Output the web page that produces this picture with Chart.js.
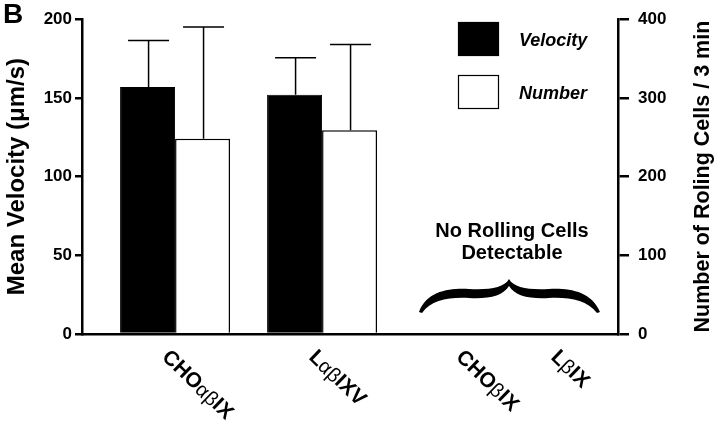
<!DOCTYPE html>
<html>
<head>
<meta charset="utf-8">
<script src="https://cdn.jsdelivr.net/npm/chart.js@4/dist/chart.umd.min.js"></script>
<style>
  html, body { margin: 0; padding: 0; background: #fff; }
  #wrap { width: 720px; height: 428px; }
</style>
</head>
<body>
<div id="wrap"><canvas id="myChart" width="720" height="428"></canvas></div>
<script>
// data
const categories = ['CHOαβIX', 'LαβIXV', 'CHOβIX', 'LβIX'];
const velocity = [157, 152, null, null];        // µm/s, left axis
const velocityErr = [29.5, 23.5, null, null];
const number = [248, 259, null, null];          // cells / 3 min, right axis
const numberErr = [142, 109, null, null];
const velocityTicks = [0, 50, 100, 150, 200];
const numberTicks = [0, 100, 200, 300, 400];

const FONT = '"Liberation Sans", Arial, Helvetica, sans-serif';

// error bars (upper half only) drawn on top of the bars
const errorBars = {
  id: 'errorBars',
  afterDatasetsDraw(chart) {
    const ctx = chart.ctx;
    const errs = [velocityErr, numberErr];
    chart.data.datasets.forEach((ds, i) => {
      const meta = chart.getDatasetMeta(i);
      const yScale = chart.scales[meta.yAxisID];
      meta.data.forEach((bar, j) => {
        const v = ds.data[j].y;
        const e = errs[i][j];
        if (v == null || e == null) return;
        const top = yScale.getPixelForValue(v + e);
        ctx.save();
        ctx.strokeStyle = '#000';
        ctx.lineWidth = 1.5;
        ctx.beginPath();
        ctx.moveTo(bar.x + 1, bar.y);
        ctx.lineTo(bar.x + 1, top);
        ctx.moveTo(bar.x - 19.5, top);
        ctx.lineTo(bar.x + 21.5, top);
        ctx.stroke();
        ctx.restore();
      });
    });
  }
};

// rotated category labels, right axis title, legend, panel letter and the brace note
const decorations = {
  id: 'decorations',
  afterDraw(chart) {
    const ctx = chart.ctx;
    const xs = chart.scales.x;
    const area = chart.chartArea;

    // category labels, rotated clockwise, greek letters in plain weight
    categories.forEach((label, i) => {
      let x = xs.getPixelForValue(i) - 10;
      if (i === categories.length - 1) x -= 52; // keep clear of the right axis
      ctx.save();
      ctx.translate(x, 354);
      ctx.rotate(44 * Math.PI / 180);
      ctx.fillStyle = '#000';
      ctx.textBaseline = 'middle';
      ctx.textAlign = 'left';
      let cx = 0;
      label.match(/[α-ω]+|[^α-ω]+/g).forEach(part => {
        const greek = /[α-ω]/.test(part);
        ctx.font = (greek ? 'normal 20px ' : 'bold 21px ') + FONT;
        ctx.fillText(part, cx, greek ? 1 : 0);
        cx += ctx.measureText(part).width;
      });
      ctx.restore();
    });

    // right axis title, reading bottom to top
    ctx.save();
    ctx.translate(703, (area.top + area.bottom) / 2);
    ctx.rotate(-Math.PI / 2);
    ctx.font = 'bold 21.5px ' + FONT;
    ctx.fillStyle = '#000';
    ctx.textAlign = 'center';
    ctx.textBaseline = 'middle';
    ctx.fillText('Number of Roling Cells / 3 min', 0, 0);
    ctx.restore();

    // legend
    ctx.save();
    chart.data.datasets.forEach((ds, i) => {
      const y = 22 + i * 53;
      ctx.fillStyle = ds.backgroundColor;
      ctx.fillRect(458, y, 41, 33);
      ctx.strokeStyle = '#000';
      ctx.lineWidth = 1.2;
      ctx.strokeRect(458.5, y + 0.5, 40, 33);
      ctx.fillStyle = '#000';
      ctx.font = 'italic bold 18px ' + FONT;
      ctx.textBaseline = 'middle';
      ctx.fillText(ds.label, 519, y + 19);
    });
    ctx.restore();

    // panel letter
    ctx.save();
    ctx.font = 'bold 28px ' + FONT;
    ctx.fillStyle = '#000';
    ctx.textBaseline = 'top';
    ctx.fillText('B', 3, 1);
    ctx.restore();

    // note over the empty categories
    ctx.save();
    ctx.fillStyle = '#000';
    ctx.font = 'bold 20px ' + FONT;
    ctx.textAlign = 'center';
    ctx.textBaseline = 'middle';
    ctx.fillText('No Rolling Cells', 512, 231);
    ctx.fillText('Detectable', 512, 253);

    // curly brace opening downward
    const bx = 509, by = 312;
    ctx.beginPath();
    ctx.moveTo(bx - 90, by);
    ctx.bezierCurveTo(bx - 82, by - 21, bx - 60, by - 24, bx - 40, by - 23);
    ctx.bezierCurveTo(bx - 20, by - 22, bx - 5, by - 24, bx, by - 33);
    ctx.bezierCurveTo(bx + 5, by - 24, bx + 20, by - 22, bx + 40, by - 23);
    ctx.bezierCurveTo(bx + 60, by - 24, bx + 82, by - 21, bx + 91, by);
    ctx.lineTo(bx + 88, by + 1);
    ctx.bezierCurveTo(bx + 78, by - 12, bx + 60, by - 15, bx + 40, by - 14);
    ctx.bezierCurveTo(bx + 20, by - 13, bx + 6, by - 16, bx, by - 26);
    ctx.bezierCurveTo(bx - 6, by - 16, bx - 20, by - 13, bx - 40, by - 14);
    ctx.bezierCurveTo(bx - 60, by - 15, bx - 78, by - 12, bx - 87, by + 1);
    ctx.closePath();
    ctx.fill();
    ctx.restore();
  }
};

const ctx = document.getElementById('myChart').getContext('2d');
new Chart(ctx, {
  type: 'bar',
  data: {
    datasets: [{
      label: 'Velocity',
      data: categories.map((c, i) => ({ x: i, y: velocity[i] })),
      backgroundColor: '#000',
      borderColor: '#000',
      borderWidth: 1,
      yAxisID: 'y'
    }, {
      label: 'Number',
      data: categories.map((c, i) => ({ x: i, y: number[i] })),
      backgroundColor: '#fff',
      borderColor: '#000',
      borderWidth: 1.5,
      yAxisID: 'y2'
    }]
  },
  options: {
    responsive: false,
    animation: false,
    categoryPercentage: 0.748,
    barPercentage: 1,
    layout: { padding: { top: 10, left: 0, right: 0, bottom: 0 } },
    plugins: { legend: { display: false }, tooltip: { enabled: false } },
    scales: {
      x: {
        type: 'linear',
        offset: false,
        min: -0.633,
        max: 3.013,
        // one tick per category so the bar ruler uses the category spacing
        afterBuildTicks: s => { s.ticks = categories.map((c, i) => ({ value: i })); },
        ticks: { display: false },
        grid: { display: false },
        border: { display: true, color: '#000', width: 2.5 },
        afterFit: s => { s.height = 94; }
      },
      y: {
        position: 'left',
        min: 0,
        max: 200,
        afterBuildTicks: s => { s.ticks = velocityTicks.map(v => ({ value: v })); },
        ticks: { color: '#000', font: { family: FONT, size: 17, weight: 'bold' }, padding: 3 },
        grid: { drawOnChartArea: false, drawTicks: true, tickLength: 7, color: '#000', lineWidth: 2.5 },
        border: { display: true, color: '#000', width: 2.5 },
        title: {
          display: true,
          text: 'Mean Velocity (μm/s)',
          color: '#000',
          font: { family: FONT, size: 24, weight: 'bold' },
          padding: { top: 3, bottom: 0 }
        },
        afterFit: s => { s.width = 82; }
      },
      y2: {
        position: 'right',
        min: 0,
        max: 400,
        afterBuildTicks: s => { s.ticks = numberTicks.map(v => ({ value: v })); },
        ticks: { color: '#000', font: { family: FONT, size: 17, weight: 'bold' }, padding: 9 },
        grid: { drawOnChartArea: false, drawTicks: true, tickLength: 11, color: '#000', lineWidth: 2.5 },
        border: { display: true, color: '#000', width: 2.5 },
        afterFit: s => { s.width = 102; }
      }
    }
  },
  plugins: [errorBars, decorations]
});
</script>
</body>
</html>
